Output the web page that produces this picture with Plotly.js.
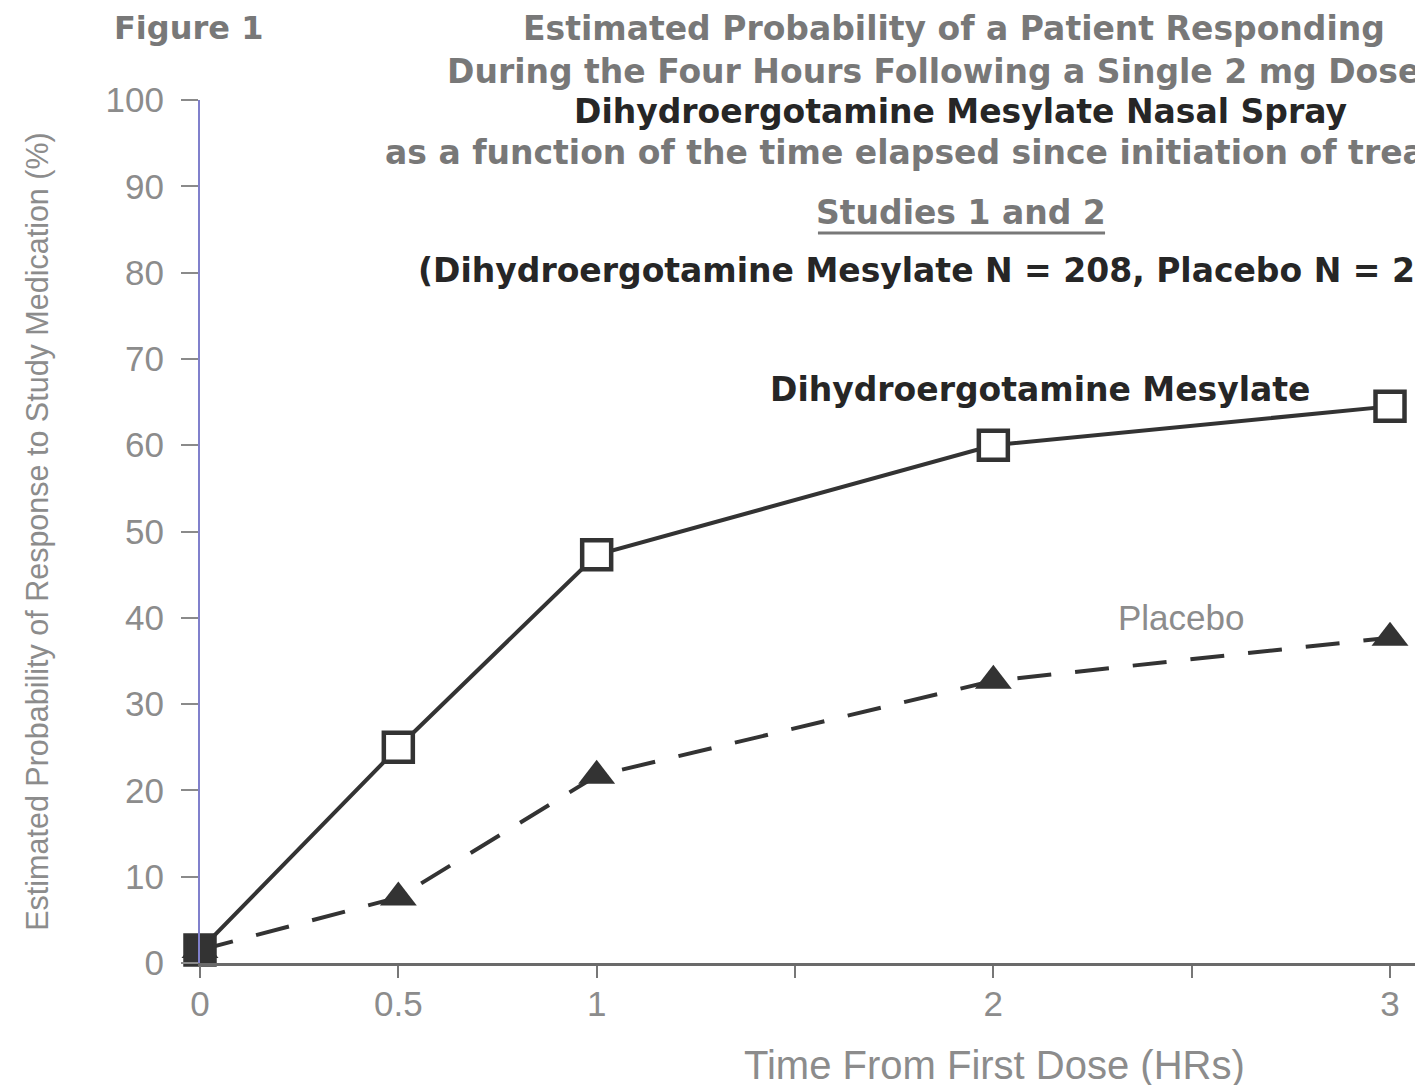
<!DOCTYPE html>
<html>
<head>
<meta charset="utf-8">
<script src="https://cdn.plot.ly/plotly-3.0.1.min.js"></script>
<style>html,body{margin:0;padding:0;background:#fff;overflow:hidden}#chart{width:1415px;height:1085px}</style>
</head>
<body>
<div id="chart"></div>
<script>
// ---- data ----
const timeHours = [0, 0.5, 1, 2, 3];
const dheValues = [1.5, 25, 47.3, 60, 64.5];
const placeboValues = [1.5, 7.6, 21.7, 32.7, 37.7];
const yTickValues = [0, 10, 20, 30, 40, 50, 60, 70, 80, 90, 100];
const xTickValues = [0, 0.5, 1, 1.5, 2, 2.5, 3];
const xTickLabels = ['0', '0.5', '1', '', '2', '', '3'];
const seriesNames = ['Dihydroergotamine Mesylate', 'Placebo'];

const BOLD = 'DejaVu Sans, Liberation Sans, Arial, sans-serif';
const REG = 'Liberation Sans, Arial, Helvetica, sans-serif';
const GRAY = '#787878';
const LIGHT = '#8c8c8c';
const INK = '#262626';

const traces = [
  {
    x: timeHours, y: placeboValues, name: seriesNames[1], type: 'scatter', mode: 'lines+markers',
    line: {color: '#333', width: 4, dash: '34px,24px'},
    marker: {symbol: 'triangle-up', size: 32, color: '#333'},
    showlegend: false, cliponaxis: false
  },
  {
    x: timeHours, y: dheValues, name: seriesNames[0], type: 'scatter', mode: 'lines+markers',
    line: {color: '#333', width: 4},
    marker: {symbol: 'square', size: 29, color: ['#333', '#fff', '#fff', '#fff', '#fff'], line: {color: '#333', width: 4.5}},
    showlegend: false, cliponaxis: false
  }
];

function ann(text, x, y, xanchor, font) {
  return {text: text, x: x, y: y, xref: 'paper', yref: 'paper', xanchor: xanchor, yanchor: 'middle', showarrow: false, font: font};
}
const titleFont = {family: BOLD, size: 33, color: GRAY, weight: 700};
const inkFont = {family: BOLD, size: 33, color: INK, weight: 700};

const layout = {
  width: 1415, height: 1085,
  margin: {l: 200, r: 0, t: 100, b: 122, pad: 0},
  paper_bgcolor: '#fff', plot_bgcolor: '#fff',
  xaxis: {
    range: [0, 3.063], tickmode: 'array', tickvals: xTickValues, ticktext: xTickLabels,
    showgrid: false, zeroline: false, showline: true, linecolor: '#6a6a6a', linewidth: 2.5,
    ticks: 'outside', ticklen: 12, tickwidth: 2, tickcolor: '#777',
    tickfont: {family: REG, size: 35, color: LIGHT}, ticklabelstandoff: -4
  },
  yaxis: {
    range: [0, 100], tickmode: 'array', tickvals: yTickValues,
    showgrid: false, zeroline: false, showline: true, linecolor: '#8080cc', linewidth: 2,
    ticks: 'outside', ticklen: 17, tickwidth: 2, tickcolor: '#8a8a8a',
    tickfont: {family: REG, size: 35, color: LIGHT}, ticklabelstandoff: 10,
    title: {text: 'Estimated Probability of Response to Study Medication (%)', font: {family: REG, size: 30.5, color: LIGHT}, standoff: 48}
  },
  annotations: [
    ann('Figure 1', -0.0724, 1.0834, 'left', {family: BOLD, size: 32, color: GRAY, weight: 700}),
    ann('Estimated Probability of a Patient Responding', 0.6206, 1.0834, 'center', titleFont),
    ann('During the Four Hours Following a Single 2 mg Dose of', 0.2016, 1.0336, 'left', titleFont),
    ann('Dihydroergotamine Mesylate Nasal Spray', 0.6263, 0.9861, 'center', inkFont),
    ann('as a function of the time elapsed since initiation of treatment', 0.1506, 0.9386, 'left', titleFont),
    ann('Studies 1 and 2', 0.6263, 0.8691, 'center', titleFont),
    ann('(Dihydroergotamine Mesylate N = 208, Placebo N = 202)', 0.1778, 0.8019, 'left', inkFont),
    ann(seriesNames[0], 0.6914, 0.6640, 'center', inkFont),
    ann(seriesNames[1], 0.8074, 0.4009, 'center', {family: REG, size: 35, color: LIGHT}),
    ann('Time From First Dose (HRs)', 0.6543, -0.1182, 'center', {family: REG, size: 40, color: LIGHT})
  ],
  shapes: [
    {type: 'line', xref: 'paper', yref: 'paper', x0: 0.5086, x1: 0.7449, y0: 0.8459, y1: 0.8459, line: {color: GRAY, width: 3}}
  ]
};

Plotly.newPlot('chart', traces, layout, {displayModeBar: false, staticPlot: true});
</script>
</body>
</html>
